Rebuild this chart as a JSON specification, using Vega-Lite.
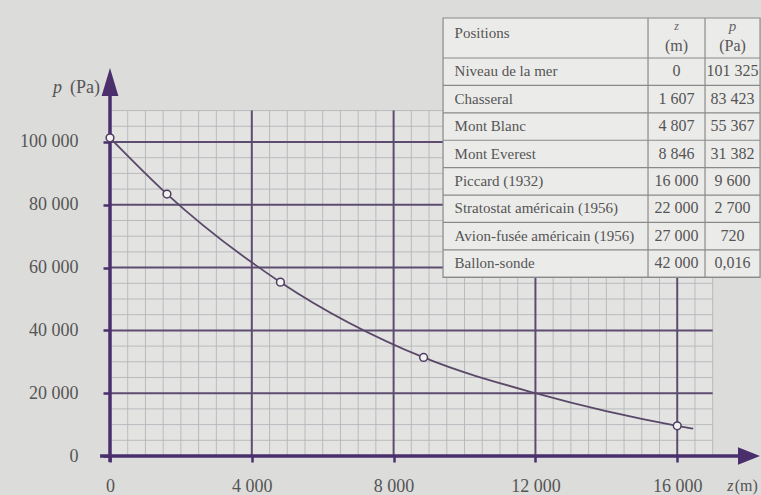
{
  "$schema": "https://vega.github.io/schema/vega-lite/v6.json",
  "autosize": {"type": "none"},
  "width": 647,
  "height": 455,
  "padding": {"left": 110, "top": 1, "right": 4, "bottom": 39},
  "background": "#dcdcda",
  "config": {
    "view": {"stroke": null},
    "axis": {"grid": false, "domain": false},
    "font": "Liberation Serif",
    "locale": {"number": {"decimal": ",", "thousands": " ", "grouping": [3], "currency": ["", ""]}}
  },
  "datasets": {
    "table": [
      {"r": 1, "name": "Niveau de la mer", "zs": "0", "ps": "101 325", "z": 0, "p": 101325},
      {"r": 2, "name": "Chasseral", "zs": "1 607", "ps": "83 423", "z": 1607, "p": 83423},
      {"r": 3, "name": "Mont Blanc", "zs": "4 807", "ps": "55 367", "z": 4807, "p": 55367},
      {"r": 4, "name": "Mont Everest", "zs": "8 846", "ps": "31 382", "z": 8846, "p": 31382},
      {"r": 5, "name": "Piccard (1932)", "zs": "16 000", "ps": "9 600", "z": 16000, "p": 9600},
      {"r": 6, "name": "Stratostat américain (1956)", "zs": "22 000", "ps": "2 700", "z": 22000, "p": 2700},
      {"r": 7, "name": "Avion-fusée américain (1956)", "zs": "27 000", "ps": "720", "z": 27000, "p": 720},
      {"r": 8, "name": "Ballon-sonde", "zs": "42 000", "ps": "0,016", "z": 42000, "p": 0.016}
    ],
    "curve": [
      {"z": 0, "p": 101325},
      {"z": 1607, "p": 83423},
      {"z": 4807, "p": 55367},
      {"z": 8846, "p": 31382},
      {"z": 12000, "p": 20000},
      {"z": 16000, "p": 9600},
      {"z": 16450, "p": 8700}
    ],
    "vminor": [
      {"x": 500}, {"x": 1000}, {"x": 1500}, {"x": 2000}, {"x": 2500}, {"x": 3000}, {"x": 3500},
      {"x": 4500}, {"x": 5000}, {"x": 5500}, {"x": 6000}, {"x": 6500}, {"x": 7000}, {"x": 7500},
      {"x": 8500}, {"x": 9000}, {"x": 9500}, {"x": 10000}, {"x": 10500}, {"x": 11000}, {"x": 11500},
      {"x": 12500}, {"x": 13000}, {"x": 13500}, {"x": 14000}, {"x": 14500}, {"x": 15000}, {"x": 15500},
      {"x": 16500}, {"x": 17000}
    ],
    "hminor": [
      {"y": 5000}, {"y": 10000}, {"y": 15000}, {"y": 25000}, {"y": 30000}, {"y": 35000},
      {"y": 45000}, {"y": 50000}, {"y": 55000}, {"y": 65000}, {"y": 70000}, {"y": 75000},
      {"y": 85000}, {"y": 90000}, {"y": 95000}, {"y": 105000}, {"y": 110000}
    ],
    "vmajor": [{"x": 4000}, {"x": 8000}, {"x": 12000}, {"x": 16000}],
    "hmajor": [{"y": 20000}, {"y": 40000}, {"y": 60000}, {"y": 80000}, {"y": 100000}]
  },
  "resolve": {"scale": {"y": "independent"}, "axis": {"y": "independent"}},
  "layer": [
    {
      "layer": [
        {
          "data": {"values": [{}]},
          "mark": {"type": "rect", "fill": "#e3e4e2"},
          "encoding": {
            "x": {"datum": 0, "type": "quantitative",
              "scale": {"domain": [0, 18250], "nice": false, "zero": false},
              "axis": {"values": [0, 4000, 8000, 12000, 16000], "format": ",d", "title": null,
                "ticks": true, "tickSize": 6, "tickWidth": 2.5, "tickColor": "#4a2f6c",
                "labelFont": "Liberation Serif", "labelFontSize": 18, "labelColor": "#555555",
                "labelPadding": 15, "labelFlush": false}},
            "x2": {"datum": 17000},
            "y": {"datum": 0, "type": "quantitative",
              "scale": {"domain": [0, 144900], "nice": false, "zero": false},
              "axis": {"values": [0, 20000, 40000, 60000, 80000, 100000], "format": ",d", "title": null,
                "ticks": true, "tickSize": 7, "tickWidth": 2.5, "tickColor": "#4a2f6c",
                "labelFont": "Liberation Serif", "labelFontSize": 18, "labelColor": "#555555",
                "labelPadding": 25, "labelFlush": false}},
            "y2": {"datum": 110000}
          }
        },
        {
          "data": {"name": "vminor"},
          "mark": {"type": "rule", "color": "#b5b6ba", "strokeWidth": 0.9},
          "encoding": {
            "x": {"field": "x", "type": "quantitative", "title": null},
            "y": {"datum": 0, "type": "quantitative"},
            "y2": {"datum": 110000}
          }
        },
        {
          "data": {"name": "hminor"},
          "mark": {"type": "rule", "color": "#b5b6ba", "strokeWidth": 0.9},
          "encoding": {
            "y": {"field": "y", "type": "quantitative", "title": null},
            "x": {"datum": 0, "type": "quantitative"},
            "x2": {"datum": 17000}
          }
        },
        {
          "data": {"name": "vmajor"},
          "mark": {"type": "rule", "color": "#5e4c70", "strokeWidth": 2},
          "encoding": {
            "x": {"field": "x", "type": "quantitative", "title": null},
            "y": {"datum": 0, "type": "quantitative"},
            "y2": {"datum": 110000}
          }
        },
        {
          "data": {"name": "hmajor"},
          "mark": {"type": "rule", "color": "#5e4c70", "strokeWidth": 2},
          "encoding": {
            "y": {"field": "y", "type": "quantitative", "title": null},
            "x": {"datum": 0, "type": "quantitative"},
            "x2": {"datum": 17000}
          }
        },
        {
          "data": {"values": [{}]},
          "mark": {"type": "rule", "color": "#4a2f6c", "strokeWidth": 3.5},
          "encoding": {
            "x": {"datum": -280, "type": "quantitative"},
            "x2": {"datum": 17800},
            "y": {"datum": 0, "type": "quantitative"}
          }
        },
        {
          "data": {"values": [{}]},
          "mark": {"type": "rule", "color": "#4a2f6c", "strokeWidth": 3.5},
          "encoding": {
            "y": {"datum": -1900, "type": "quantitative"},
            "y2": {"datum": 116000},
            "x": {"datum": 0, "type": "quantitative"}
          }
        },
        {
          "data": {"values": [{}]},
          "mark": {"type": "point", "shape": "M0,-1L-0.6,1L0.6,1Z", "size": 784, "filled": true, "color": "#4a2f6c", "opacity": 1},
          "encoding": {
            "x": {"datum": 0, "type": "quantitative"},
            "y": {"datum": 119100, "type": "quantitative"}
          }
        },
        {
          "data": {"values": [{}]},
          "mark": {"type": "point", "shape": "M1,0L-1,-0.8L-1,0.8Z", "size": 484, "filled": true, "color": "#4a2f6c", "opacity": 1},
          "encoding": {
            "x": {"datum": 18025, "type": "quantitative"},
            "y": {"datum": 0, "type": "quantitative"}
          }
        },
        {
          "data": {"name": "curve"},
          "mark": {"type": "line", "interpolate": "monotone", "color": "#5a4868", "strokeWidth": 1.8},
          "encoding": {
            "x": {"field": "z", "type": "quantitative", "title": null},
            "y": {"field": "p", "type": "quantitative", "title": null}
          }
        },
        {
          "data": {"name": "table"},
          "transform": [{"filter": "datum.z <= 16000"}],
          "mark": {"type": "point", "filled": true, "fill": "#f2f2f0", "stroke": "#4f3d63", "strokeWidth": 1.5, "size": 60, "opacity": 1},
          "encoding": {
            "x": {"field": "z", "type": "quantitative", "title": null},
            "y": {"field": "p", "type": "quantitative", "title": null}
          }
        },
        {
          "data": {"values": [{}]},
          "mark": {"type": "text", "text": "p", "fontStyle": "italic", "fontSize": 18, "color": "#555555", "align": "center", "baseline": "middle"},
          "encoding": {
            "x": {"datum": -1480, "type": "quantitative"},
            "y": {"datum": 117200, "type": "quantitative"}
          }
        },
        {
          "data": {"values": [{}]},
          "mark": {"type": "text", "text": "(Pa)", "fontSize": 18, "color": "#555555", "align": "right", "baseline": "middle"},
          "encoding": {
            "x": {"datum": -282, "type": "quantitative"},
            "y": {"datum": 117200, "type": "quantitative"}
          }
        },
        {
          "data": {"values": [{}]},
          "mark": {"type": "text", "text": "z", "fontStyle": "italic", "fontSize": 16, "color": "#555555", "align": "center", "baseline": "middle"},
          "encoding": {
            "x": {"datum": 17500, "type": "quantitative"},
            "y": {"datum": -9600, "type": "quantitative"}
          }
        },
        {
          "data": {"values": [{}]},
          "mark": {"type": "text", "text": "(m)", "fontSize": 16, "color": "#555555", "align": "left", "baseline": "middle"},
          "encoding": {
            "x": {"datum": 17620, "type": "quantitative"},
            "y": {"datum": -9600, "type": "quantitative"}
          }
        }
      ]
    },
    {
      "layer": [
        {
          "data": {"values": [{}]},
          "mark": {"type": "rect", "fill": "#ebebe9", "stroke": "#8a8a8a", "strokeWidth": 1.2},
          "encoding": {
            "x": {"datum": 9394, "type": "quantitative"},
            "x2": {"datum": 18336},
            "y": {"datum": -1.46, "type": "quantitative", "axis": null,
              "scale": {"domain": [14.52, -2.08], "nice": false, "zero": false}},
            "y2": {"datum": 8}
          }
        },
        {
          "data": {"name": "table"},
          "mark": {"type": "rule", "color": "#8a8a8a", "strokeWidth": 1.2},
          "encoding": {
            "x": {"datum": 9394, "type": "quantitative"},
            "x2": {"datum": 18336},
            "y": {"field": "r", "type": "quantitative", "axis": null}
          }
        },
        {
          "data": {"values": [{}]},
          "mark": {"type": "rule", "color": "#8a8a8a", "strokeWidth": 1.2},
          "encoding": {
            "x": {"datum": 9394, "type": "quantitative"},
            "x2": {"datum": 18336},
            "y": {"datum": 0, "type": "quantitative", "axis": null}
          }
        },
        {
          "data": {"values": [{"x": 15176}, {"x": 16784}]},
          "mark": {"type": "rule", "color": "#8a8a8a", "strokeWidth": 1.2},
          "encoding": {
            "x": {"field": "x", "type": "quantitative"},
            "y": {"datum": -1.46, "type": "quantitative", "axis": null},
            "y2": {"datum": 8}
          }
        },
        {
          "data": {"name": "table"},
          "mark": {"type": "text", "fontSize": 15, "color": "#555555", "align": "left", "baseline": "middle", "dy": -14},
          "encoding": {
            "x": {"datum": 9720, "type": "quantitative"},
            "y": {"field": "r", "type": "quantitative", "axis": null},
            "text": {"field": "name"}
          }
        },
        {
          "data": {"name": "table"},
          "mark": {"type": "text", "fontSize": 16, "color": "#555555", "align": "center", "baseline": "middle", "dy": -14},
          "encoding": {
            "x": {"datum": 15980, "type": "quantitative"},
            "y": {"field": "r", "type": "quantitative", "axis": null},
            "text": {"field": "zs"}
          }
        },
        {
          "data": {"name": "table"},
          "mark": {"type": "text", "fontSize": 16, "color": "#555555", "align": "center", "baseline": "middle", "dy": -14},
          "encoding": {
            "x": {"datum": 17560, "type": "quantitative"},
            "y": {"field": "r", "type": "quantitative", "axis": null},
            "text": {"field": "ps"}
          }
        },
        {
          "data": {"values": [{"t": "Positions"}]},
          "mark": {"type": "text", "fontSize": 15, "color": "#555555", "align": "left", "baseline": "middle"},
          "encoding": {
            "x": {"datum": 9720, "type": "quantitative"},
            "y": {"datum": -0.91, "type": "quantitative", "axis": null},
            "text": {"field": "t"}
          }
        },
        {
          "data": {"values": [{"t": "z"}]},
          "mark": {"type": "text", "fontSize": 12, "fontStyle": "italic", "color": "#666666", "align": "center", "baseline": "middle"},
          "encoding": {
            "x": {"datum": 15980, "type": "quantitative"},
            "y": {"datum": -1.15, "type": "quantitative", "axis": null},
            "text": {"field": "t"}
          }
        },
        {
          "data": {"values": [{"t": "(m)"}]},
          "mark": {"type": "text", "fontSize": 16, "color": "#555555", "align": "center", "baseline": "middle"},
          "encoding": {
            "x": {"datum": 15980, "type": "quantitative"},
            "y": {"datum": -0.45, "type": "quantitative", "axis": null},
            "text": {"field": "t"}
          }
        },
        {
          "data": {"values": [{"t": "p"}]},
          "mark": {"type": "text", "fontSize": 15, "fontStyle": "italic", "color": "#666666", "align": "center", "baseline": "middle"},
          "encoding": {
            "x": {"datum": 17560, "type": "quantitative"},
            "y": {"datum": -1.15, "type": "quantitative", "axis": null},
            "text": {"field": "t"}
          }
        },
        {
          "data": {"values": [{"t": "(Pa)"}]},
          "mark": {"type": "text", "fontSize": 16, "color": "#555555", "align": "center", "baseline": "middle"},
          "encoding": {
            "x": {"datum": 17560, "type": "quantitative"},
            "y": {"datum": -0.45, "type": "quantitative", "axis": null},
            "text": {"field": "t"}
          }
        }
      ]
    }
  ]
}
